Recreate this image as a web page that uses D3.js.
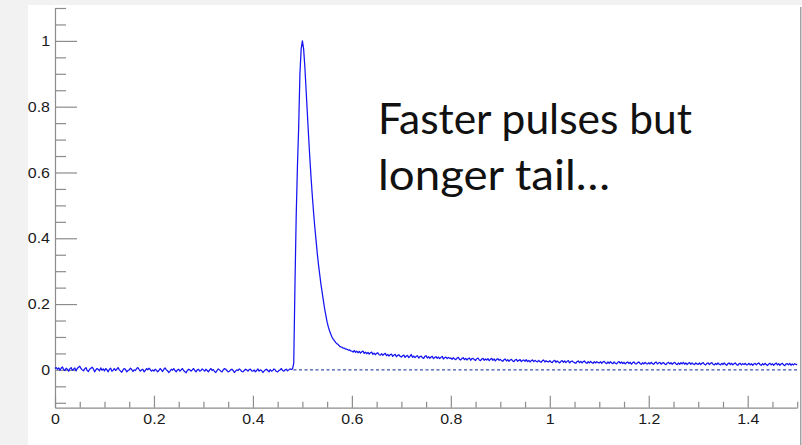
<!DOCTYPE html>
<html>
<head>
<meta charset="utf-8">
<script src="https://cdn.jsdelivr.net/npm/d3@7"></script>
<style>
  html, body { margin: 0; padding: 0; background: #f2f2f2; }
  svg { display: block; }
</style>
</head>
<body>
<svg id="chart" width="802" height="445"></svg>
<script>
// ---- data (bin width 0.0025) ----
const binWidth = 0.0025;
// baseline before the pulse, bins starting at x = 0
const baselineStart = 0;
const baselineVals = [
  0.004,0.007,0.002,0.006,-0.001,0.005,0.009,0.001,-0.002,0.005,
  0.002,-0.004,0.003,0.007,-0.001,0.002,0.006,-0.003,0.004,0.008,
  0.011,0.004,0.000,-0.003,0.003,0.007,-0.002,-0.005,0.002,0.005,
  0.008,0.003,-0.006,0.000,0.004,0.001,-0.003,0.006,-0.001,0.003,
  -0.003,0.004,0.000,-0.006,0.002,0.005,-0.004,-0.001,0.004,-0.002,
  0.002,0.007,0.000,-0.004,-0.007,0.000,0.004,0.001,-0.006,-0.002,
  0.000,0.005,0.001,-0.005,0.000,-0.002,0.004,0.007,0.001,-0.004,
  0.000,0.002,-0.006,-0.002,0.004,0.000,0.005,0.001,-0.004,0.000,
  -0.004,0.002,-0.001,-0.006,-0.002,0.004,0.000,-0.005,0.002,0.006,
  0.000,-0.003,-0.008,-0.004,0.002,-0.001,0.004,-0.002,-0.006,0.000,
  0.002,-0.004,0.000,0.004,-0.002,-0.006,-0.009,-0.002,0.002,0.000,
  -0.004,0.000,0.004,-0.002,-0.006,0.000,0.002,-0.004,-0.002,0.003,
  0.000,-0.004,0.002,-0.002,-0.006,0.000,0.004,-0.002,0.001,-0.005,
  -0.008,-0.002,0.003,0.000,-0.004,-0.006,0.000,0.004,0.002,-0.002,
  -0.006,-0.004,0.000,0.002,-0.002,-0.008,-0.004,0.000,-0.002,0.003,
  0.000,-0.005,-0.006,-0.002,0.002,0.000,-0.004,0.001,0.002,-0.003,
  -0.004,0.000,-0.006,-0.002,0.003,-0.004,0.000,-0.002,-0.008,-0.004,
  0.000,0.002,-0.002,-0.006,0.001,-0.004,-0.002,0.003,0.000,-0.005,
  -0.006,-0.002,0.000,0.004,-0.002,-0.004,0.000,0.002,-0.003,0.000,
  0.003,0.001
];
// the pulse itself, bins starting at x = 0.48
const pulseStart = 0.48;
const pulseVals = [
  0.003,0.020,0.260,0.470,0.620,0.740,0.900,0.975,1.000,0.975,
  0.920,0.850,0.780,0.710,0.645,0.585,0.530,0.480,0.435,0.395,
  0.355,0.320,0.290,0.260,0.235,0.210,0.185,0.165,0.145,0.130,
  0.118,0.108,0.099,0.093,0.088,0.083,0.079,0.077,0.072,0.070,
  0.069,0.066,0.066,0.063,0.063,0.060,0.061,0.058
];
// long tail, bins starting at x = 0.6
const tailStart = 0.6;
const tailVals = [
  0.057,0.054,0.059,0.053,0.057,0.052,0.056,0.051,0.055,0.057,
  0.050,0.054,0.049,0.053,0.048,0.052,0.054,0.047,0.051,0.046,
  0.050,0.052,0.046,0.045,0.049,0.044,0.048,0.050,0.043,0.047,
  0.042,0.046,0.048,0.041,0.045,0.047,0.040,0.044,0.046,0.041,
  0.039,0.043,0.045,0.038,0.042,0.044,0.037,0.041,0.047,0.038,
  0.042,0.037,0.041,0.043,0.036,0.040,0.042,0.037,0.035,0.041,
  0.043,0.036,0.040,0.035,0.039,0.041,0.034,0.038,0.040,0.035,
  0.039,0.034,0.038,0.041,0.033,0.037,0.039,0.034,0.038,0.035,
  0.036,0.032,0.037,0.033,0.031,0.036,0.038,0.032,0.030,0.035,
  0.037,0.031,0.035,0.030,0.034,0.036,0.029,0.034,0.035,0.031,
  0.029,0.034,0.036,0.030,0.028,0.033,0.035,0.029,0.033,0.030,
  0.034,0.028,0.032,0.035,0.029,0.033,0.027,0.032,0.034,0.029,
  0.032,0.028,0.026,0.031,0.033,0.027,0.031,0.026,0.030,0.032,
  0.027,0.025,0.030,0.032,0.026,0.029,0.031,0.025,0.029,0.030,
  0.026,0.031,0.025,0.029,0.024,0.028,0.030,0.025,0.029,0.026,
  0.024,0.029,0.025,0.023,0.028,0.030,0.024,0.028,0.025,0.024,
  0.028,0.024,0.022,0.027,0.029,0.023,0.027,0.024,0.021,0.026,
  0.028,0.023,0.027,0.022,0.026,0.028,0.021,0.025,0.027,0.024,
  0.022,0.020,0.025,0.027,0.022,0.026,0.021,0.025,0.027,0.022,
  0.020,0.025,0.021,0.026,0.022,0.020,0.025,0.021,0.025,0.022,
  0.021,0.025,0.020,0.024,0.026,0.021,0.019,0.024,0.020,0.025,
  0.021,0.019,0.024,0.020,0.018,0.023,0.025,0.020,0.024,0.019,
  0.023,0.018,0.022,0.024,0.019,0.023,0.017,0.022,0.024,0.019,
  0.018,0.022,0.024,0.019,0.017,0.022,0.018,0.023,0.019,0.018,
  0.022,0.018,0.023,0.019,0.017,0.022,0.024,0.018,0.021,0.023,
  0.017,0.021,0.022,0.018,0.016,0.021,0.023,0.018,0.022,0.017,
  0.021,0.023,0.018,0.016,0.021,0.017,0.022,0.018,0.023,0.017,
  0.021,0.016,0.020,0.022,0.017,0.021,0.018,0.016,0.021,0.018,
  0.017,0.021,0.016,0.020,0.022,0.017,0.015,0.020,0.021,0.016,
  0.020,0.022,0.017,0.015,0.020,0.016,0.021,0.017,0.015,0.020,
  0.016,0.021,0.017,0.014,0.019,0.021,0.016,0.020,0.015,0.019,
  0.021,0.016,0.014,0.019,0.020,0.015,0.019,0.016,0.020,0.015,
  0.016,0.020,0.015,0.019,0.014,0.018,0.020,0.015,0.019,0.021,
  0.016,0.014,0.019,0.015,0.020,0.016,0.013,0.018,0.020,0.015,
  0.019,0.014,0.018,0.021,0.015,0.019,0.014,0.018,0.020,0.015,
  0.013,0.018,0.019,0.015,0.020,0.014,0.018,0.015,0.019,0.016,
  0.017
];
// dashed reference line (baseline level) drawn from..to
const refLineX = [0.482, 1.5];
const refLineY = 0;
// axes
const xDomain = [0, 1.5];
const yDomain = [-0.115, 1.1];
const xMajorTicks = [0, 0.2, 0.4, 0.6, 0.8, 1, 1.2, 1.4];
const xMinorTicks = [0.05,0.1,0.15,0.25,0.3,0.35,0.45,0.5,0.55,0.65,0.7,0.75,0.85,0.9,0.95,1.05,1.1,1.15,1.25,1.3,1.35,1.45,1.5];
const yMajorTicks = [0, 0.2, 0.4, 0.6, 0.8, 1];
const yMinorTicks = [-0.1,-0.05,0.05,0.1,0.15,0.25,0.3,0.35,0.45,0.5,0.55,0.65,0.7,0.75,0.85,0.9,0.95,1.05,1.1];
const annotationLines = ["Faster pulses but", "longer tail\u2026"];

// ---- build points ----
const points = [];
baselineVals.forEach((v, i) => points.push([baselineStart + i * binWidth, v]));
pulseVals.forEach((v, i) => points.push([pulseStart + i * binWidth, v]));
tailVals.forEach((v, i) => points.push([tailStart + i * binWidth, v]));

// ---- drawing ----
const svg = d3.select("#chart");
svg.append("rect").attr("x", 28).attr("y", 5).attr("width", 774).attr("height", 440).attr("fill", "#ffffff");
svg.append("line").attr("x1", 800.8).attr("x2", 800.8).attr("y1", 7).attr("y2", 445)
  .attr("stroke", "#8a8a8a").attr("stroke-width", 1.2);

const x = d3.scaleLinear().domain(xDomain).range([55, 797.2]);
const y = d3.scaleLinear().domain(yDomain).range([407.7, 8]);

const axisColor = "#8c8c8c";
const fmt = d => d3.format("")(+d.toFixed(2));
const labelFont = "'Liberation Sans', Arial, sans-serif";

svg.append("g").attr("transform", "translate(55,0)")
  .call(d3.axisLeft(y).tickValues(yMinorTicks).tickSizeInner(-11).tickSizeOuter(0).tickFormat(""))
  .call(g => g.select(".domain").remove());
svg.append("g").attr("transform", "translate(55,0)")
  .call(d3.axisLeft(y).tickValues(yMajorTicks).tickSizeInner(-22).tickSizeOuter(0).tickPadding(5).tickFormat(fmt));

svg.append("g").attr("transform", "translate(0,407.7)")
  .call(d3.axisBottom(x).tickValues(xMinorTicks).tickSizeInner(-6).tickSizeOuter(0).tickFormat(""))
  .call(g => g.select(".domain").remove());
svg.append("g").attr("transform", "translate(0,407.7)")
  .call(d3.axisBottom(x).tickValues(xMajorTicks).tickSizeInner(-12).tickSizeOuter(0).tickPadding(6).tickFormat(fmt));

svg.selectAll(".domain, .tick line").attr("stroke", axisColor).attr("stroke-width", 1.2);
svg.selectAll(".tick text").attr("font-family", labelFont).attr("font-size", 14.5).attr("fill", "#1a1a1a")
  .each(function() {
    const w = this.getComputedTextLength();
    if (w > 0) d3.select(this).attr("textLength", w * 1.1).attr("lengthAdjust", "spacingAndGlyphs");
  });

svg.append("line")
  .attr("x1", x(refLineX[0])).attr("x2", x(refLineX[1]))
  .attr("y1", y(refLineY)).attr("y2", y(refLineY))
  .attr("stroke", "#3c55a8").attr("stroke-width", 1.2).attr("stroke-dasharray", "3,2.5");

svg.append("path")
  .datum(points)
  .attr("d", d3.line().x(d => x(d[0])).y(d => y(d[1])))
  .attr("fill", "none").attr("stroke", "#1414f2").attr("stroke-width", 1.25).attr("stroke-linejoin", "round");

const annWidths = [314, 232];
svg.selectAll("text.ann").data(annotationLines).join("text")
  .attr("class", "ann")
  .attr("font-family", "Lato, 'Open Sans', sans-serif")
  .attr("font-size", 43).attr("fill", "#111")
  .attr("x", 378).attr("y", (d, i) => i === 0 ? 134 : 190)
  .attr("textLength", (d, i) => annWidths[i]).attr("lengthAdjust", "spacingAndGlyphs")
  .text(d => d);
</script>
</body>
</html>
